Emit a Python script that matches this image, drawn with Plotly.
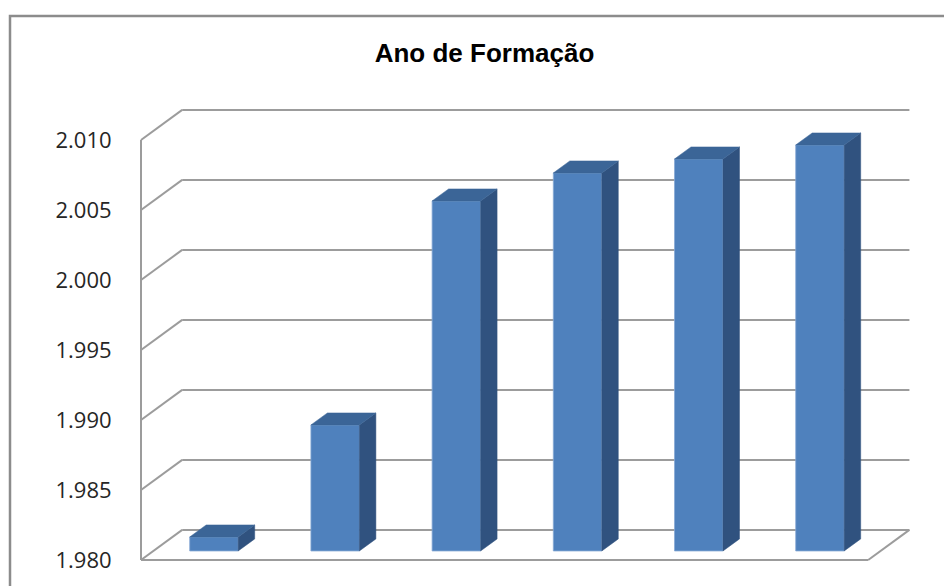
import plotly.graph_objects as go

# ---------------- data ----------------
CATEGORIES = ["1", "2", "3", "4", "5", "6"]          # category slots (no labels shown)
YEARS = [1981, 1989, 2005, 2007, 2008, 2009]          # Ano de Formação
TICK_VALUES = [1980, 1985, 1990, 1995, 2000, 2005, 2010]
TICK_LABELS = ["1.980", "1.985", "1.990", "1.995", "2.000", "2.005", "2.010"]
TITLE = "Ano de Formação"

# ---------------- geometry / style ----------------
W, H = 944, 586
PX_CAT = 121.2      # pixels per category slot
PX_YEAR = 14.0      # pixels per year
FRONT_X0 = 141      # screen x of front-left corner
FRONT_Y0 = 560      # screen y of front floor
DX = 0.34           # depth offset (category units)
DY = 2.15           # depth offset (year units)
D0, D1 = 0.3, 0.7   # bar depth span (fraction of floor depth)
BAR_W = 0.4
BASE = TICK_VALUES[0]
TOP = TICK_VALUES[-1]
N = len(CATEGORIES)

plot_left, plot_right = 131, 930
plot_top, plot_bottom = 95, 575
x_range = [(plot_left - FRONT_X0) / PX_CAT, (plot_right - FRONT_X0) / PX_CAT]
y_range = [BASE - (plot_bottom - FRONT_Y0) / PX_YEAR, BASE + (FRONT_Y0 - plot_top) / PX_YEAR]

GRID = "#9c9c9c"
FRONT = "#4F81BD"
SIDE = "#30527F"
TOPC = "#3B6597"

fig = go.Figure()

# front faces as real bars
fig.add_trace(go.Bar(
    x=[i + 0.5 + D0 * DX for i in range(N)],
    y=[v - BASE for v in YEARS],
    base=[BASE + D0 * DY] * N,
    width=BAR_W,
    marker=dict(color=FRONT, line=dict(color="#86a8d4", width=0.8)),
    hoverinfo="skip",
    showlegend=False,
))

# side and top faces
for i, v in enumerate(YEARS):
    c = i + 0.5
    xl, xr = c - BAR_W / 2, c + BAR_W / 2
    # right side face
    fig.add_trace(go.Scatter(
        x=[xr + D0 * DX, xr + D1 * DX, xr + D1 * DX, xr + D0 * DX, xr + D0 * DX],
        y=[BASE + D0 * DY, BASE + D1 * DY, v + D1 * DY, v + D0 * DY, BASE + D0 * DY],
        mode="lines", fill="toself", fillcolor=SIDE,
        line=dict(color=SIDE, width=0.5), hoverinfo="skip", showlegend=False,
    ))
    # top face
    fig.add_trace(go.Scatter(
        x=[xl + D0 * DX, xr + D0 * DX, xr + D1 * DX, xl + D1 * DX, xl + D0 * DX],
        y=[v + D0 * DY, v + D0 * DY, v + D1 * DY, v + D1 * DY, v + D0 * DY],
        mode="lines", fill="toself", fillcolor=TOPC,
        line=dict(color=TOPC, width=0.5), hoverinfo="skip", showlegend=False,
    ))

shapes = []
def seg(x0, y0, x1, y1):
    shapes.append(dict(type="line", xref="x", yref="y", x0=x0, y0=y0, x1=x1, y1=y1,
                       line=dict(color=GRID, width=2), layer="below"))

for v in TICK_VALUES:
    seg(0, v, DX, v + DY)              # left wall
    seg(DX, v + DY, N + DX, v + DY)    # back wall
seg(0, BASE, 0, TOP)                   # front vertical axis
seg(0, BASE, N, BASE)                  # floor front edge
seg(N, BASE, N + DX, BASE + DY)        # floor right edge

# outer chart frame (pixel -> paper)
def px_x(px):
    return (px - plot_left) / (plot_right - plot_left)
def px_y(py):
    return (plot_bottom - py) / (plot_bottom - plot_top)
shapes.append(dict(type="rect", xref="paper", yref="paper",
                   x0=px_x(10), x1=px_x(970), y0=px_y(16), y1=px_y(620),
                   line=dict(color="#8c8c8c", width=2.5), fillcolor="rgba(0,0,0,0)", layer="below"))

fig.update_layout(
    width=W, height=H,
    margin=dict(l=plot_left, r=W - plot_right, t=plot_top, b=H - plot_bottom),
    paper_bgcolor="white", plot_bgcolor="white",
    shapes=shapes,
    showlegend=False,
    title=dict(text=TITLE, x=484.5 / W, xanchor="center", xref="container",
               y=1 - 53 / H, yanchor="middle", yref="container",
               font=dict(family="Liberation Sans", size=26, color="black", weight="bold")),
    xaxis=dict(range=x_range, visible=False, fixedrange=True),
    yaxis=dict(range=y_range, tickvals=TICK_VALUES, ticktext=TICK_LABELS,
               showgrid=False, zeroline=False, showline=False,
               ticks="outside", ticklen=14, tickcolor="rgba(0,0,0,0)",
               tickfont=dict(family="Open Sans", size=22, color="#262626"),
               fixedrange=True),
)

fig.write_html("out.html")
